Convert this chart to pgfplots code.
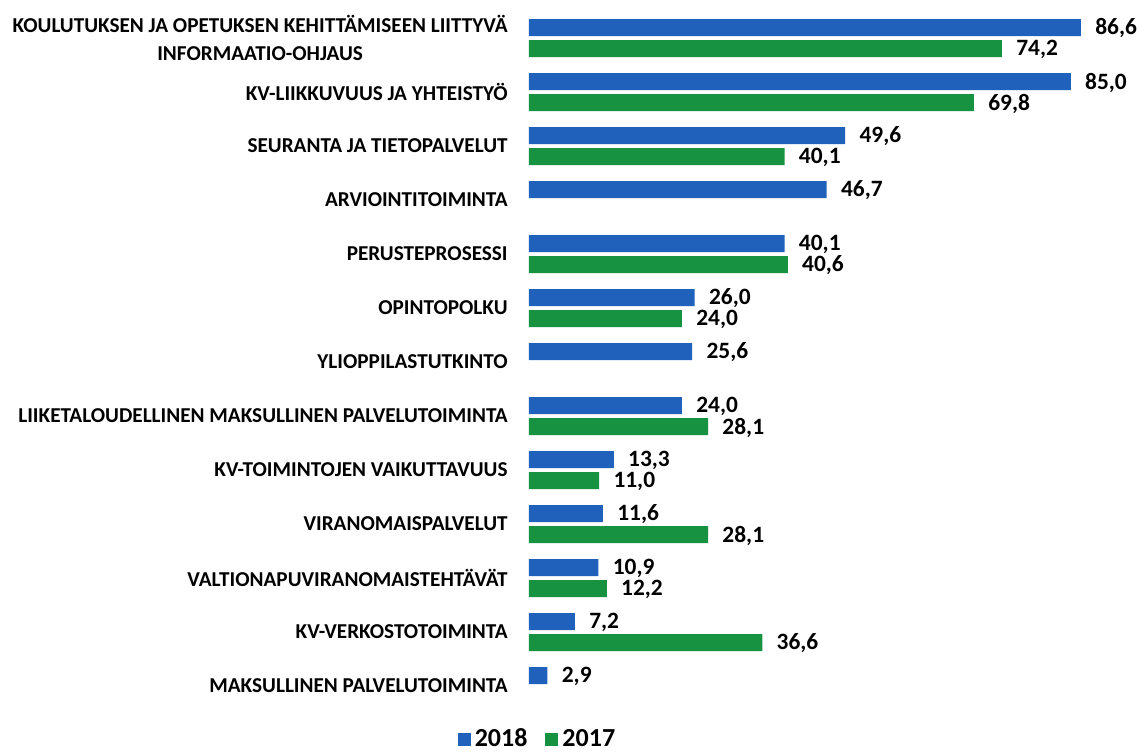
\documentclass[border=0pt]{standalone}
\usepackage{pgfplots}
\pgfplotsset{compat=1.18}
\usepackage{fontspec}
\setmainfont{Carlito}
\definecolor{cblue}{RGB}{31,97,187}
\definecolor{cgreen}{RGB}{22,146,64}
\begin{document}
\begin{tikzpicture}
\useasboundingbox (-264.5pt,-19.5pt) rectangle (306pt,356.5pt);
\begin{axis}[
  at={(0,0)}, anchor=south west,
  scale only axis, width=286.83pt, height=351pt,
  xmin=0, xmax=90, ymin=-0.5, ymax=12.5,
  clip=false,
  axis line style={draw=none},
  major tick length=0pt,
  xtick=\empty,
  ytick={0,...,12},
  yticklabels={
    MAKSULLINEN PALVELUTOIMINTA,
    KV-VERKOSTOTOIMINTA,
    VALTIONAPUVIRANOMAISTEHTÄVÄT,
    VIRANOMAISPALVELUT,
    KV-TOIMINTOJEN VAIKUTTAVUUS,
    LIIKETALOUDELLINEN MAKSULLINEN PALVELUTOIMINTA,
    YLIOPPILASTUTKINTO,
    OPINTOPOLKU,
    PERUSTEPROSESSI,
    ARVIOINTITOIMINTA,
    SEURANTA JA TIETOPALVELUT,
    KV-LIIKKUVUUS JA YHTEISTYÖ,
    {KOULUTUKSEN JA OPETUKSEN KEHITTÄMISEEN LIITTYVÄ\\INFORMAATIO-OHJAUS}},
  yticklabel style={anchor=east, inner sep=0pt, xshift=-10.5pt, align=center,
    font=\bfseries\fontsize{10.6}{14}\selectfont},
  xbar, bar width=8.5pt,
  nodes near coords,
  nodes near coords style={anchor=west, inner sep=0pt, xshift=7pt, yshift=-0.5pt,
    font=\bfseries\fontsize{11.7}{12}\selectfont, text=black},
  /pgf/number format/fixed,
  /pgf/number format/fixed zerofill,
  /pgf/number format/precision=1,
  /pgf/number format/use comma,
  /pgf/number format/assume math mode=true,
  legend columns=2,
  legend style={at={(0.0148,-0.037)}, anchor=center, draw=none, fill=none,
    font=\bfseries\fontsize{13}{14}\selectfont,
    nodes={inner sep=1pt},
    /tikz/every odd column/.append style={column sep=1pt},
    /tikz/every even column/.append style={column sep=8pt}},
  legend image code/.code={\fill[#1] (0pt,-3.4pt) rectangle (6.5pt,3.1pt);},
]
\addplot[fill=cblue, draw=none, bar shift=5.25pt] coordinates {
 (86.6,12) (85.0,11) (49.6,10) (46.7,9) (40.1,8) (26.0,7) (25.6,6)
 (24.0,5) (13.3,4) (11.6,3) (10.9,2) (7.2,1) (2.9,0)};
\addplot[fill=cgreen, draw=none, bar shift=-5.25pt] coordinates {
 (74.2,12) (69.8,11) (40.1,10) (40.6,8) (24.0,7)
 (28.1,5) (11.0,4) (28.1,3) (12.2,2) (36.6,1)};
\legend{2018,2017}
\end{axis}
\end{tikzpicture}
\end{document}
